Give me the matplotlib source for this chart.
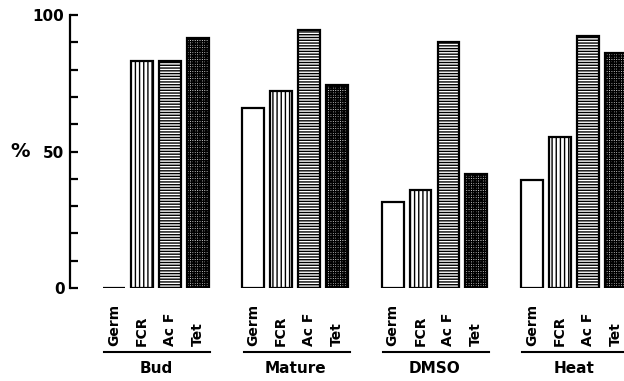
import numpy as np
import matplotlib.pyplot as plt

plt.rcParams["font.family"] = "DejaVu Sans"
plt.rcParams["font.weight"] = "bold"
plt.rcParams["hatch.linewidth"] = 1.0

# treatments (groups) and the four measures within each group
groups = ["Bud", "Mature", "DMSO", "Heat"]
measures = ["Germ", "FCR", "Ac F", "Tet"]

# percent values, one list per measure
germ = [0, 66, 31.5, 39.5]
fcr = [83.2, 72, 36, 55.2]
acf = [83.2, 94.5, 90, 92.3]
tet = [91.6, 74.5, 41.6, 86]

values = [germ, fcr, acf, tet]
hatches = ["", "||||", "------", "+++++++"]
faces = ["white", "white", "white", "#d8d8d8"]

fig = plt.figure(figsize=(6.24, 3.81), dpi=100)
ax = fig.add_axes([70 / 624, 1 - 288 / 381, 1 - 70 / 624, (288 - 15) / 381])

group_step = 5
width = 0.78
for i, (name, vals, h, fc) in enumerate(zip(measures, values, hatches, faces)):
    xs = np.arange(len(groups)) * group_step + i
    ax.bar(xs, vals, width=width, facecolor=fc, edgecolor="black",
           linewidth=1.6, hatch=h, zorder=2)

ax.set_xlim(-1.58, 18.3)
ax.set_ylim(0, 100)

for s in ["top", "right", "bottom"]:
    ax.spines[s].set_visible(False)
ax.spines["left"].set_linewidth(1.6)

ax.set_xticks([])
ax.set_yticks(np.arange(0, 101, 10))
ax.set_yticklabels(["0" if v == 0 else "50" if v == 50 else "100" if v == 100 else ""
                    for v in range(0, 101, 10)], fontsize=11, fontweight="bold")
ax.tick_params(axis="y", direction="in", length=6, width=1.6, pad=4)

ax.text(-0.09, 0.5, "%", transform=ax.transAxes, fontsize=14,
        fontweight="bold", ha="center", va="center")

trans = ax.get_xaxis_transform()
for g, gname in enumerate(groups):
    base = g * group_step
    for i, m in enumerate(measures):
        ax.text(base + i, -0.212, m, transform=trans, rotation=90,
                ha="center", va="bottom", fontsize=10, fontweight="bold",
                clip_on=False)
    ax.plot([base - 0.35, base + 3.45], [-0.234, -0.234], transform=trans,
            color="black", linewidth=1.5, clip_on=False)
    ax.text(base + 1.5, -0.296, gname, transform=trans, ha="center",
            va="center", fontsize=11, fontweight="bold")

fig.savefig("out.png", dpi=100)
